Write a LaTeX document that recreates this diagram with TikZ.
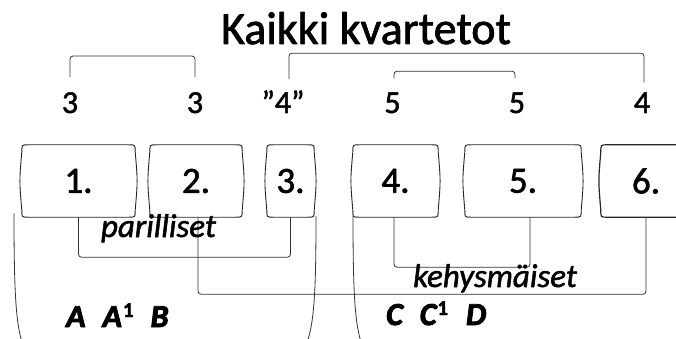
\documentclass[tikz,border=0pt]{standalone}
\usepackage{fontspec}
\setmainfont{Carlito}[FakeBold=1.6]
\newfontfamily\grpfont{Carlito}[BoldItalicFont={Carlito Bold Italic}, BoldItalicFeatures={FakeBold=3}, BoldFeatures={FakeBold=2}]
\newcommand\supone{\raisebox{10pt}{\fontsize{21}{22}\selectfont\upshape 1}}
\begin{document}
\begin{tikzpicture}[x=1pt,y=-1pt,
  line join=round,
  title/.style={font=\fontsize{46}{50}\selectfont, anchor=base, inner sep=0pt},
  num/.style={font=\fontsize{32}{36}\selectfont, anchor=base, inner sep=0pt},
  box/.style={draw=none, inner sep=0pt, minimum height=72pt, font=\fontsize{37}{40}\selectfont},
  boxline/.style={draw=black!85, line width=0.9pt},
  brk/.style={draw=black!80, line width=0.8pt, rounded corners=3pt},
  lbl/.style={font=\fontsize{33}{36}\selectfont\itshape, anchor=base, inner sep=0pt},
  grp/.style={font=\grpfont\fontsize{32}{34}\selectfont\bfseries\itshape, anchor=base west, inner sep=0pt},
  paren/.style={draw=black!80, line width=0.8pt}
]
\useasboundingbox (0,0) rectangle (676,339);
\clip (0,0) rectangle (676,339);
\fill[white] (0,0) rectangle (676,339);

\newcommand\bowbox[2][]{%
  \draw[boxline,#1] ([xshift=6pt]#2.north west) -- ([xshift=-6pt]#2.north east)
   .. controls (#2.north east) .. ([yshift=-7pt]#2.north east)
   .. controls ([xshift=2.5pt]#2.east) .. ([yshift=7pt]#2.south east)
   .. controls (#2.south east) .. ([xshift=-6pt]#2.south east)
   -- ([xshift=6pt]#2.south west)
   .. controls (#2.south west) .. ([yshift=7pt]#2.south west)
   .. controls ([xshift=-2.5pt]#2.west) .. ([yshift=-7pt]#2.north west)
   .. controls (#2.north west) .. cycle;}

% title
\node[title] (t) at (366,44) {Kaikki kvartetot};

% numbers row
\node[num] (n1) at (70,113) {3};
\node[num] (n2) at (195,113) {3};
\node[num] (n3) at (283,113) {”4”};
\node[num] (n4) at (392.5,113) {5};
\node[num] (n5) at (517,113) {5};
\node[num] (n6) at (642,113) {4};

% boxes
\node[box, minimum width=113pt] (b1) at (78.5,181) {1.};
\node[box, minimum width=92pt]  (b2) at (196,181) {2.};
\node[box, minimum width=47pt]  (b3) at (290.5,181) {3.};
\node[box, minimum width=85pt]  (b4) at (395.5,181) {4.};
\node[box, minimum width=116pt] (b5) at (523,181) {5.};
\node[box, minimum width=90pt]  (b6) at (646,181) {6.};
\bowbox{b1}
\bowbox{b2}
\bowbox{b3}
\bowbox{b4}
\bowbox{b5}
\bowbox[line width=1.2pt]{b6}

% top brackets
\draw[brk] ([yshift=15pt]n1.north) -- ([yshift=36pt]n1.north) -| ([yshift=15pt]n2.north);
\draw[brk] ([xshift=6pt,yshift=11pt]n3.north) -- ([xshift=6pt,yshift=37pt]n3.north) -| ([xshift=2pt,yshift=10pt]n6.north);
\draw[brk] ([xshift=1.5pt,yshift=14pt]n4.north) -- ([xshift=1.5pt,yshift=21pt]n4.north) -| ([xshift=-2pt,yshift=14pt]n5.north);

% lower brackets
\draw[brk] (b1.south) -- ++(0,40) -| (b3.south);
\draw[brk] ([xshift=2pt]b2.south) -- ++(0,77) -| (b6.south);
\draw[brk] ([xshift=-1.5pt]b4.south) -- ++(0,50) -| ([xshift=7pt]b5.south);

\node[lbl] (p) at (158.5,237) {parilliset};
\node[lbl] (k) at (495,287) {kehysmäiset};

% group parentheses
\draw[paren] (14,213) .. controls (14,295) and (16,325) .. (23,345);
\draw[paren] (316,216) .. controls (316,295) and (314,325) .. (306,345);
\draw[paren] (353,216) .. controls (353,295) and (355,325) .. (362,345);

\node[grp] (ga) at (66,327) {A\hspace{17pt}A\hspace{1pt}{\bfseries\supone}\hspace{17pt}B};
\node[grp] (gc) at (386,325) {C\hspace{17pt}C\hspace{1pt}{\bfseries\supone}\hspace{18pt}D};
\end{tikzpicture}
\end{document}
